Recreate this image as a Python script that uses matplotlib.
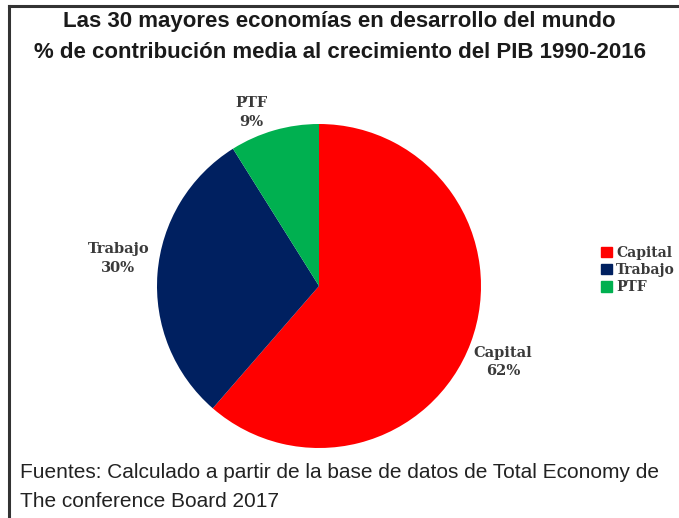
import numpy as np
import matplotlib
matplotlib.use('Agg')
import matplotlib.pyplot as plt
from matplotlib.lines import Line2D

labels = ['Capital', 'Trabajo', 'PTF']
values = [62, 30, 9]
colors = ['#FF0000', '#002060', '#00B050']

title = ('Las 30 mayores economías en desarrollo del mundo\n'
         '% de contribución media al crecimiento del PIB 1990-2016')
source = ('Fuentes: Calculado a partir de la base de datos de Total Economy de\n'
          'The conference Board 2017')


def main():
    fig = plt.figure(figsize=(6.79, 5.18), dpi=100)
    W, H = 679, 518

    # pie area: centre ~ (319, 286) px, radius ~162 px
    r = 162
    ax = fig.add_axes([(319 - r) / W, (H - 286 - r) / H, 2 * r / W, 2 * r / H])
    wedges, _ = ax.pie(values, colors=colors, startangle=90, counterclock=False,
                       wedgeprops=dict(linewidth=0))
    ax.set_xlim(-1, 1)
    ax.set_ylim(-1, 1)
    ax.set_aspect('equal')

    # label placement (distance from centre, angle nudge in degrees)
    dists = [1.23, 1.25, 1.15]
    nudges = [-1.9, -3.4, 5.3]
    for w, lab, v, d, n in zip(wedges, labels, values, dists, nudges):
        ang = np.deg2rad((w.theta1 + w.theta2) / 2 + n)
        ax.text(d * np.cos(ang), d * np.sin(ang), '%s\n%d%%' % (lab, v),
                ha='center', va='center', fontsize=10.5, fontweight='bold',
                family='DejaVu Serif', color='#3a3a3a', linespacing=1.4)

    handles = [plt.Rectangle((0, 0), 1, 1, color=c) for c in colors]
    leg = fig.legend(handles, labels, loc='center left',
                     bbox_to_anchor=(601 / W, 1 - 270 / H), frameon=False,
                     handlelength=0.8, handleheight=0.8, handletextpad=0.3,
                     labelspacing=0.22, borderaxespad=0, borderpad=0,
                     prop=dict(family='DejaVu Serif', weight='bold', size=10))
    for t in leg.get_texts():
        t.set_color('#3a3a3a')

    fig.text(0.5, 1 - 37 / H, title, ha='center', va='center', fontsize=16,
             fontweight='bold', family='Liberation Sans', color='#1a1a1a',
             linespacing=1.6)
    fig.text(20 / W, 1 - 487 / H, source, ha='left', va='center', fontsize=15,
             family='Liberation Sans', color='#222222', linespacing=1.65)

    # frame lines on left and top
    fig.add_artist(Line2D([9 / W, 9 / W], [0, 1 - 6 / H], transform=fig.transFigure,
                          color='#333333', linewidth=2.2))
    fig.add_artist(Line2D([9 / W, 1], [1 - 6 / H, 1 - 6 / H], transform=fig.transFigure,
                          color='#333333', linewidth=2.2))

    fig.savefig('out.png', dpi=100)


if __name__ == '__main__':
    main()
